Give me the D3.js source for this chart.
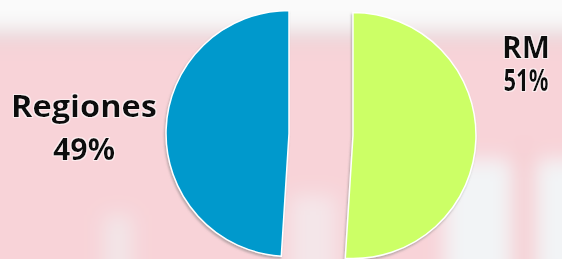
<!DOCTYPE html>
<html>
<head>
<meta charset="utf-8">
<script src="https://cdn.jsdelivr.net/npm/d3@7"></script>
<style>
  html, body { margin: 0; padding: 0; background: #f7d4d9; }
  svg { display: block; }
</style>
</head>
<body>
<svg width="562" height="259"></svg>
<script>
const categories = ['RM', 'Regiones'];
const values = [51, 49];
const labels = ['51%', '49%'];
const colors = ['#ccff66', '#0099cc'];

const WIDTH = 562, HEIGHT = 259;
const RADIUS = 123;
const EXPLODE = 32;
const center = { x: 321, y: 134.5 };
// where the two text blocks sit, relative to the pie centre (baseline of each line)
const labelPos = [
  { x: 205, y1: -77, y2: -44, w1: 48, w2: 45 },
  { x: -237, y1: -18, y2: 25, w1: 146, w2: 62 }
];

const svg = d3.select('svg');
const defs = svg.append('defs');

const blur = defs.append('filter').attr('id', 'blur')
  .attr('x', '-20%').attr('y', '-20%').attr('width', '140%').attr('height', '140%');
blur.append('feGaussianBlur').attr('stdDeviation', 10);

const shadow = defs.append('filter').attr('id', 'shadow')
  .attr('x', '-10%').attr('y', '-10%').attr('width', '120%').attr('height', '120%');
shadow.append('feDropShadow')
  .attr('dx', -1).attr('dy', 2).attr('stdDeviation', 1)
  .attr('flood-color', '#777').attr('flood-opacity', 0.5);

const halo = defs.append('filter').attr('id', 'halo')
  .attr('x', '-10%').attr('y', '-20%').attr('width', '120%').attr('height', '140%');
halo.append('feMorphology').attr('in', 'SourceAlpha').attr('operator', 'dilate').attr('radius', 1).attr('result', 'd');
halo.append('feFlood').attr('flood-color', '#fff').attr('flood-opacity', 0.6);
halo.append('feComposite').attr('in2', 'd').attr('operator', 'in').attr('result', 'h');
const m = halo.append('feMerge');
m.append('feMergeNode').attr('in', 'h');
m.append('feMergeNode').attr('in', 'SourceGraphic');

// blurry photo behind the chart
const bg = svg.append('g').attr('filter', 'url(#blur)');
bg.append('rect').attr('x', -40).attr('y', -40).attr('width', WIDTH + 80).attr('height', HEIGHT + 80).attr('fill', '#f8d3d8');
bg.append('rect').attr('x', -40).attr('y', -40).attr('width', WIDTH + 80).attr('height', 70).attr('fill', '#fafafa');
bg.append('rect').attr('x', -40).attr('y', 30).attr('width', WIDTH + 80).attr('height', 10).attr('fill', '#e2d2d5');
bg.append('rect').attr('x', 104).attr('y', 215).attr('width', 28).attr('height', 70).attr('fill', '#eef4f4').attr('opacity', 0.6);
bg.append('rect').attr('x', 290).attr('y', 195).attr('width', 46).attr('height', 90).attr('fill', '#f1f4f5').attr('opacity', 0.6);
bg.append('rect').attr('x', 445).attr('y', 160).attr('width', 140).attr('height', 120).attr('fill', '#f2f4f6');
bg.append('rect').attr('x', 512).attr('y', 150).attr('width', 24).attr('height', 130).attr('fill', '#f6cdd2');

const pie = d3.pie().sort(null).value(d => d);
const arcs = pie(values);
const arc = d3.arc().innerRadius(0).outerRadius(RADIUS);

const g = svg.append('g').attr('transform', `translate(${center.x},${center.y})`);

g.selectAll('path')
  .data(arcs)
  .enter()
  .append('path')
  .attr('transform', d => {
    const a = (d.startAngle + d.endAngle) / 2;
    return `translate(${Math.sin(a) * EXPLODE},${-Math.cos(a) * EXPLODE})`;
  })
  .attr('d', arc)
  .attr('fill', (d, i) => colors[i])
  .attr('stroke', '#fff')
  .attr('stroke-width', 1.5)
  .attr('filter', 'url(#shadow)');

const text = g.selectAll('text')
  .data(arcs)
  .enter()
  .append('text')
  .attr('text-anchor', 'middle')
  .attr('font-family', '"Open Sans", sans-serif')
  .attr('font-weight', 700)
  .attr('font-size', 31)
  .attr('fill', '#111')
  .attr('filter', 'url(#halo)');

text.append('tspan')
  .attr('x', (d, i) => labelPos[i].x)
  .attr('y', (d, i) => labelPos[i].y1)
  .attr('textLength', (d, i) => labelPos[i].w1)
  .attr('lengthAdjust', 'spacingAndGlyphs')
  .text((d, i) => categories[i]);
text.append('tspan')
  .attr('x', (d, i) => labelPos[i].x)
  .attr('y', (d, i) => labelPos[i].y2)
  .attr('textLength', (d, i) => labelPos[i].w2)
  .attr('lengthAdjust', 'spacingAndGlyphs')
  .text((d, i) => labels[i]);
</script>
</body>
</html>
